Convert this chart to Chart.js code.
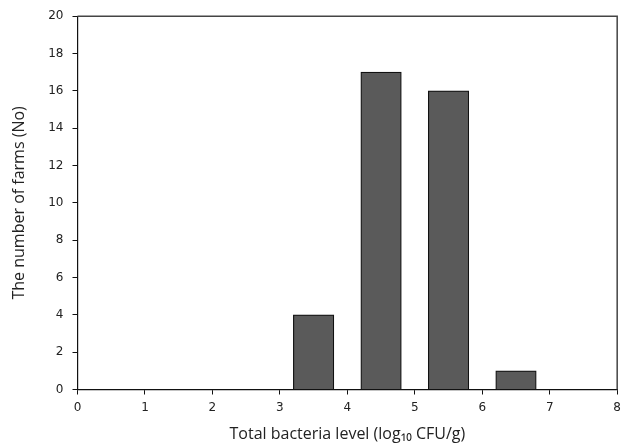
<!DOCTYPE html>
<html>
<head>
<meta charset="utf-8">
<script src="https://cdn.jsdelivr.net/npm/chart.js@4"></script>
<style>
  html, body { margin: 0; padding: 0; background: #fff; }
  #wrap { width: 627px; height: 448px; }
</style>
</head>
<body>
<div id="wrap"><canvas id="myChart" width="627" height="448"></canvas></div>
<script>
// Données : niveau de bactéries (centre de classe) et nombre de fermes
const levels = [3.5, 4.5, 5.5, 6.5];
const farms = [4, 17, 16, 1];
const xTicks = [0, 1, 2, 3, 4, 5, 6, 7, 8];
const yTicks = [0, 2, 4, 6, 8, 10, 12, 14, 16, 18, 20];

// Cadre autour de la zone du graphique (haut et droite)
const frame = {
    id: 'frame',
    afterDraw(chart) {
        const a = chart.chartArea;
        const c = chart.ctx;
        c.save();
        c.strokeStyle = '#444';
        c.lineWidth = 1.5;
        c.beginPath();
        c.moveTo(a.left, a.top);
        c.lineTo(a.right, a.top);
        c.lineTo(a.right, a.bottom);
        c.stroke();
        c.restore();
    }
};

const tickFont = { family: 'DejaVu Sans', size: 12 };

const ctx = document.getElementById('myChart').getContext('2d');
const myChart = new Chart(ctx, {
    type: 'bar',
    data: {
        datasets: [{
            data: levels.map((x, i) => ({ x: x, y: farms[i] })),
            backgroundColor: '#5a5a5a',
            borderColor: '#111',
            borderWidth: 1.2,
            barThickness: 40.5
        }]
    },
    options: {
        responsive: false,
        animation: false,
        layout: { padding: { top: 13.5, right: 9, left: 0, bottom: 0 } },
        plugins: { legend: { display: false }, tooltip: { enabled: false } },
        scales: {
            x: {
                type: 'linear',
                min: 0,
                max: 8,
                offset: false,
                afterBuildTicks: s => { s.ticks = xTicks.map(v => ({ value: v })); },
                afterFit: s => { s.height = 58.5; },
                grid: { drawOnChartArea: false, offset: false, tickLength: 5, color: '#111' },
                border: { color: '#111', width: 1.2 },
                ticks: { color: '#222', font: tickFont, padding: 6, maxRotation: 0 },
                title: {
                    display: true,
                    text: 'Total bacteria level (log\u2081\u2080 CFU/g)',
                    color: '#222',
                    font: { family: 'Open Sans', size: 16 },
                    padding: { top: 2 }
                }
            },
            y: {
                min: 0,
                max: 20,
                afterBuildTicks: s => { s.ticks = yTicks.map(v => ({ value: v })); },
                afterFit: s => { s.width = 77.5; },
                grid: { drawOnChartArea: false, tickLength: 5, color: '#111' },
                border: { color: '#111', width: 1.2 },
                ticks: { color: '#222', font: tickFont, padding: 9 },
                title: {
                    display: true,
                    text: 'The number of farms (No)',
                    color: '#222',
                    font: { family: 'Open Sans', size: 16 },
                    padding: { top: 10, bottom: 0 }
                }
            }
        }
    },
    plugins: [frame]
});
</script>
</body>
</html>
